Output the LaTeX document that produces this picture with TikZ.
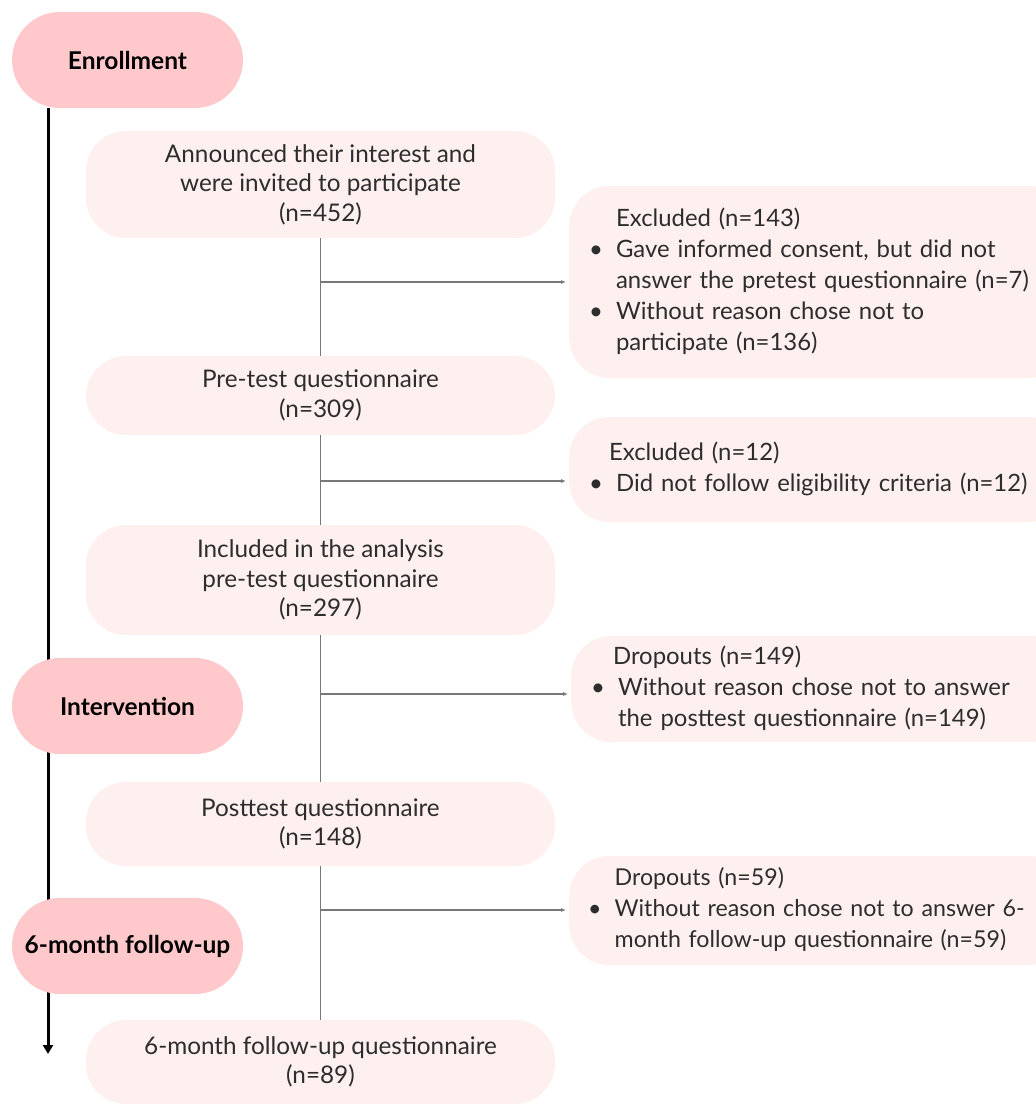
\documentclass[tikz,border=0pt]{standalone}
\usepackage{fontspec}
\setmainfont{Lato}
\usetikzlibrary{arrows.meta}
\definecolor{phasepink}{RGB}{255,201,204}
\definecolor{boxpink}{RGB}{255,240,240}
\definecolor{txt}{RGB}{45,45,45}
\definecolor{linegray}{RGB}{120,120,120}
\tikzset{
  phase/.style={fill=phasepink, rounded corners=48pt, minimum width=231pt, minimum height=96pt, inner sep=0pt, font=\fontsize{24.5}{30}\selectfont\bfseries, text=black},
  mainbox/.style={fill=boxpink, rounded corners=40pt, minimum width=469pt, inner sep=0pt, align=center, font=\fontsize{24.3}{29.5}\selectfont, text=txt},
  sidebox/.style={fill=boxpink, rounded corners=40pt, text width=500pt, align=left, inner sep=0pt, anchor=west, font=\fontsize{23.9}{31}\selectfont, text=txt},
  flow/.style={draw=linegray, line width=1.6pt},
  branch/.style={draw=linegray, line width=1.4pt, -{Latex[length=5pt,width=4pt]}},
  timeline/.style={draw=black, line width=3pt, -{Triangle[length=9pt,width=10pt]}}
}
\newcommand{\sidetext}[2][20pt]{\hspace*{#1}\begin{tabular}{@{}l@{\hspace{13pt}}l@{}}#2\end{tabular}}
\begin{document}
\begin{tikzpicture}[x=1pt,y=-1pt]
\useasboundingbox (0,0) rectangle (1036,1106);
% timeline (behind phase boxes)
\coordinate (tl) at (48,108);
\coordinate (te) at (48,1054);
\draw[timeline] (tl) -- (te);
\begin{scope}
\clip (0,0) rectangle (1036,1106);
% main boxes
\node[mainbox, minimum height=107pt] (m1) at (320.5,184.5) {Announced their interest and\\were invited to participate\\(n=452)};
\node[mainbox, minimum height=79pt] (m2) at (320.5,395.5) {Pre-test questionnaire\\(n=309)};
\node[mainbox, minimum height=110pt] (m3) at (320.5,580) {Included in the analysis\\pre-test questionnaire\\(n=297)};
\node[mainbox, minimum height=84pt] (m4) at (320.5,824) {Posttest questionnaire\\(n=148)};
\node[mainbox, minimum height=84pt] (m5) at (320.5,1062) {6-month follow-up questionnaire\\(n=89)};
% side boxes
\node[sidebox, minimum height=192pt] (s1) at (569,282) {\sidetext{ & Excluded (n=143)\\ \textbullet & Gave informed consent, but did not\\ & answer the pretest questionnaire (n=7)\\ \textbullet & Without reason chose not to\\ & participate (n=136)}};
\node[sidebox, minimum height=105pt] (s2) at (569,469.5) {\sidetext{ & \hspace{-7pt}Excluded (n=12)\\ \textbullet & Did not follow eligibility criteria (n=12)}};
\node[sidebox, minimum height=106pt] (s3) at (571,689) {\sidetext{ & \hspace{-5pt}Dropouts (n=149)\\ \textbullet & Without reason chose not to answer\\ & the posttest questionnaire (n=149)}};
\node[sidebox, minimum height=109pt, font=\fontsize{23.2}{31}\selectfont] (s4) at (569,910.5) {\sidetext[19pt]{ & Dropouts (n=59)\\ \textbullet & Without reason chose not to answer 6-\\ & month follow-up questionnaire (n=59)}};
\end{scope}
% phase boxes
\node[phase] (p1) at (127.5,60) {Enrollment};
\node[phase] (p2) at (127.5,706) {Intervention};
\node[phase] (p3) at (127.5,946) {6-month follow-up};
% main flow
\draw[flow] (m1.south) -- (m2.north);
\draw[flow] (m2.south) -- (m3.north);
\draw[flow] (m3.south) -- (m4.north);
\draw[flow] (m4.south) -- (m5.north);
% branches
\coordinate (b1) at (319.5,282);
\coordinate (b2) at (319.5,481);
\coordinate (b3) at (319.5,694);
\coordinate (b4) at (319.5,910);
\draw[branch] (b1) -- ([xshift=-3pt]b1 -| s1.west);
\draw[branch] (b2) -- ([xshift=-3pt]b2 -| s2.west);
\draw[branch] (b3) -- ([xshift=-3pt]b3 -| s3.west);
\draw[branch] (b4) -- ([xshift=-3pt]b4 -| s4.west);
\end{tikzpicture}
\end{document}
